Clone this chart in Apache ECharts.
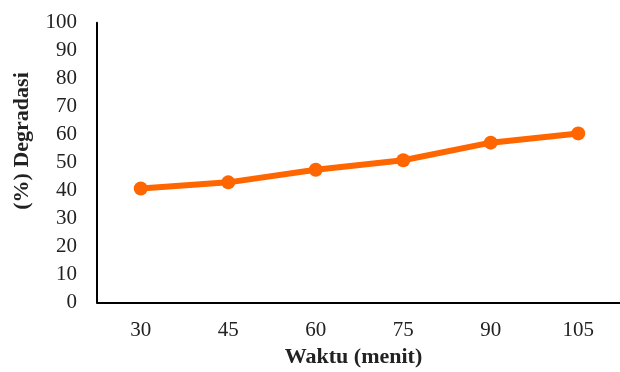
<!DOCTYPE html>
<html><head><meta charset="utf-8">
<script src="https://cdn.jsdelivr.net/npm/echarts@6/dist/echarts.min.js"></script>
<style>html,body{margin:0;padding:0;background:#fff}#c{width:620px;height:372px}</style>
</head><body><div id="c"></div>
<script>
var categories = ['30', '45', '60', '75', '90', '105'];
var degradasi = [40.7, 42.9, 47.4, 50.8, 57.1, 60.4];
var yMin = 0, yMax = 100, yStep = 10;
var xTitle = 'Waktu (menit)';
var yTitle = '(%) Degradasi';
var font = '"Liberation Serif", "DejaVu Serif", serif';

var chart = echarts.init(document.getElementById('c'), null, {renderer: 'canvas'});
chart.setOption({
  animation: false,
  backgroundColor: '#fff',
  grid: {left: 97, top: 22.7, width: 525, bottom: 69.7, containLabel: false, outerBoundsMode: 'none'},
  xAxis: {
    type: 'category', data: categories, boundaryGap: true,
    axisLine: {lineStyle: {color: '#000', width: 2}},
    axisTick: {show: false},
    axisLabel: {color: '#222', fontFamily: font, fontSize: 21, margin: 18},
    name: xTitle, nameLocation: 'middle', nameGap: 44,
    nameTextStyle: {color: '#222', fontFamily: font, fontSize: 22, fontWeight: 'bold', padding: [0, 12, 0, 0]}
  },
  yAxis: {
    type: 'value', min: yMin, max: yMax, interval: yStep,
    axisLine: {show: true, lineStyle: {color: '#000', width: 2}},
    axisTick: {show: false},
    splitLine: {show: false},
    axisLabel: {color: '#222', fontFamily: font, fontSize: 21, margin: 20}
  },
  graphic: [{
    type: 'text', x: 22, y: 141, rotation: Math.PI / 2,
    style: {text: yTitle, fill: '#222', font: 'bold 22px ' + font, textAlign: 'center', textVerticalAlign: 'middle'}
  }],
  series: [{
    type: 'line', data: degradasi,
    symbol: 'circle', symbolSize: 14,
    lineStyle: {color: '#FF6600', width: 6},
    itemStyle: {color: '#FF6600'}
  }]
});
</script></body></html>
